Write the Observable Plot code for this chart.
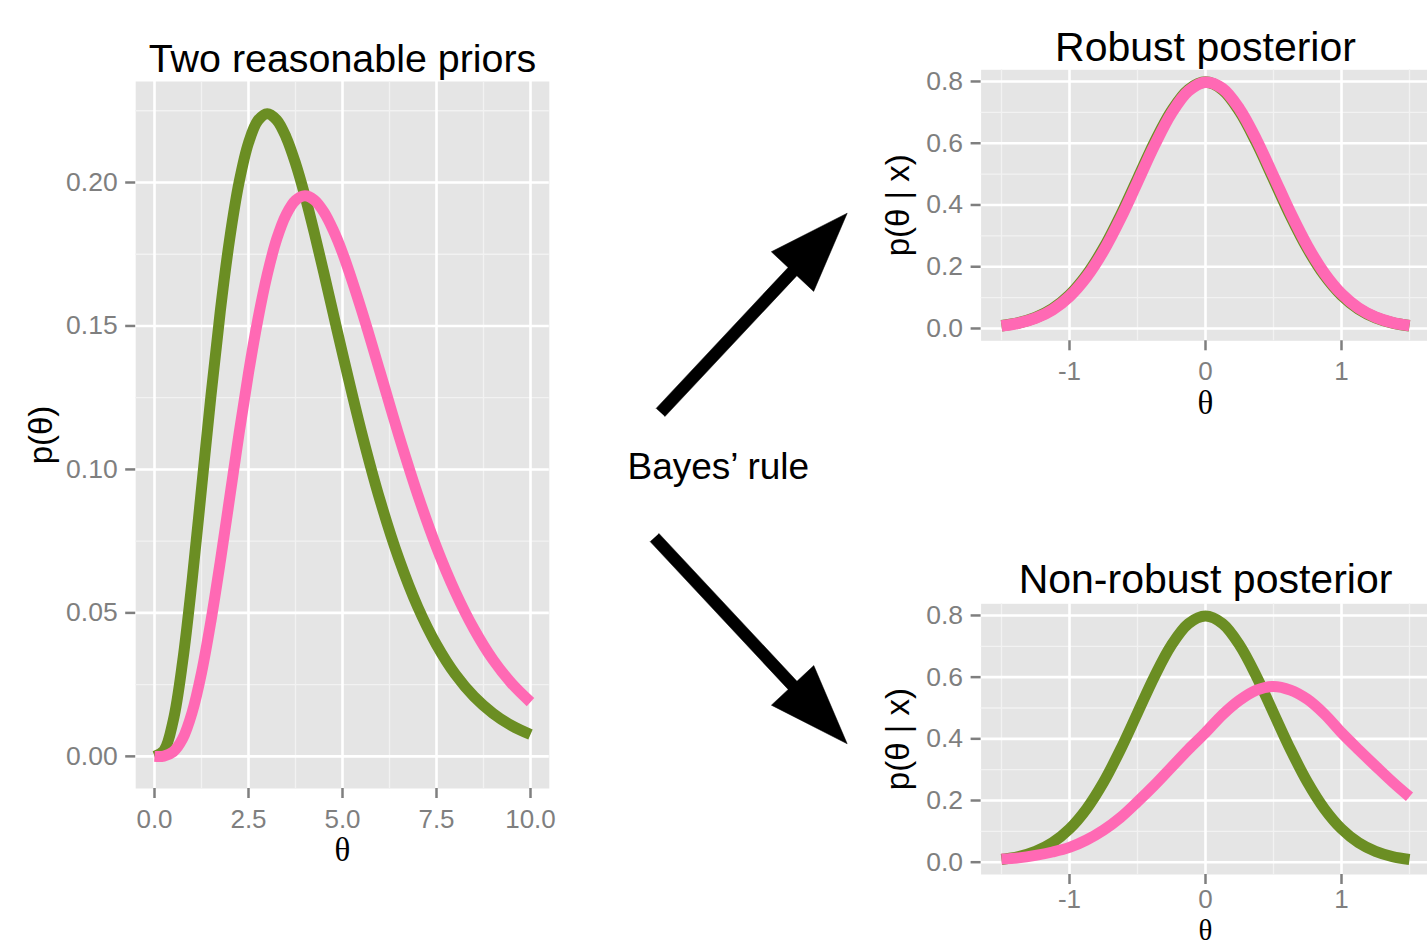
<!DOCTYPE html>
<html>
<head>
<meta charset="utf-8">
<script src="https://cdn.jsdelivr.net/npm/d3@7"></script>
<script src="https://cdn.jsdelivr.net/npm/@observablehq/plot@0.6"></script>
<style>
  html, body { margin: 0; padding: 0; background: #fff; overflow: hidden; }
  #wrap { position: relative; width: 1427px; height: 946px; overflow: hidden; background: #fff; }
</style>
</head>
<body>
<div id="wrap"></div>
<script>
// ---------------- DATA ----------------
const seriesNames = ["prior A", "prior B"];
const seriesColors = ["#6B8E23", "#FF69B4"];

// Left panel: two priors
const priorTheta = [0, 0.25, 0.5, 0.75, 1, 1.25, 1.5, 1.75, 2, 2.25, 2.5, 2.75, 3,
  3.25, 3.5, 3.75, 4, 4.25, 4.5, 4.75, 5, 5.5, 6, 6.5, 7, 7.5, 8, 8.5, 9, 9.5, 10];
const priorGreen = [0, 0.0020, 0.0126, 0.0332, 0.0613, 0.0933, 0.1255, 0.1552, 0.1804, 0.2001, 0.2138, 0.2216, 0.2240,
  0.2218, 0.2158, 0.2067, 0.1954, 0.1825, 0.1687, 0.1545, 0.1404, 0.1133, 0.0892, 0.0688, 0.0521, 0.0389, 0.0286, 0.0208, 0.0150, 0.0107, 0.0076];
const priorPink = [0, 0.0001, 0.0016, 0.0062, 0.0153, 0.0291, 0.0471, 0.0679, 0.0902, 0.1126, 0.1336, 0.1523, 0.1680,
  0.1803, 0.1888, 0.1938, 0.1954, 0.1939, 0.1898, 0.1835, 0.1755, 0.1558, 0.1339, 0.1118, 0.0912, 0.0729, 0.0573, 0.0443, 0.0337, 0.0254, 0.0189];

// Right panels: posteriors
const postTheta = [-1.5, -1.375, -1.25, -1.125, -1, -0.875, -0.75, -0.625, -0.5, -0.375, -0.25, -0.125, 0,
  0.125, 0.25, 0.375, 0.5, 0.625, 0.75, 0.875, 1, 1.125, 1.25, 1.375, 1.5];
const robustGreen = [0.0089, 0.0182, 0.0351, 0.0635, 0.1080, 0.1726, 0.2591, 0.3653, 0.4839, 0.6023, 0.7041, 0.7734, 0.7979,
  0.7734, 0.7041, 0.6023, 0.4839, 0.3653, 0.2591, 0.1726, 0.1080, 0.0635, 0.0351, 0.0182, 0.0089];
const robustPink = [0.0084, 0.0172, 0.0333, 0.0606, 0.1037, 0.1666, 0.2513, 0.3562, 0.4742, 0.5933, 0.6971, 0.7695, 0.7977,
  0.7773, 0.7111, 0.6113, 0.4936, 0.3744, 0.2669, 0.1786, 0.1123, 0.0664, 0.0369, 0.0192, 0.0094];
const nonRobustGreen = [0.0089, 0.0182, 0.0351, 0.0635, 0.1080, 0.1726, 0.2591, 0.3653, 0.4839, 0.6023, 0.7041, 0.7734, 0.7979,
  0.7734, 0.7041, 0.6023, 0.4839, 0.3653, 0.2591, 0.1726, 0.1080, 0.0635, 0.0351, 0.0182, 0.0089];
const nonRobustPink = [0.010, 0.014, 0.022, 0.033, 0.048, 0.072, 0.104, 0.145, 0.196, 0.250, 0.308, 0.366, 0.420,
  0.478, 0.525, 0.558, 0.570, 0.558, 0.528, 0.480, 0.420, 0.365, 0.312, 0.260, 0.212];

// Ticks and labels
const leftXTicks = [0, 2.5, 5, 7.5, 10];
const leftXTickLabels = ["0.0", "2.5", "5.0", "7.5", "10.0"];
const leftXMinor = [1.25, 3.75, 6.25, 8.75];
const leftYTicks = [0, 0.05, 0.10, 0.15, 0.20];
const leftYTickLabels = ["0.00", "0.05", "0.10", "0.15", "0.20"];
const leftYMinor = [0.025, 0.075, 0.125, 0.175, 0.225];
const postXTicks = [-1, 0, 1];
const postXTickLabels = ["-1", "0", "1"];
const postXMinor = [-1.5, -0.5, 0.5, 1.5];
const postYTicks = [0, 0.2, 0.4, 0.6, 0.8];
const postYTickLabels = ["0.0", "0.2", "0.4", "0.6", "0.8"];
const postYMinor = [0.1, 0.3, 0.5, 0.7];

const titles = ["Two reasonable priors", "Robust posterior", "Non-robust posterior"];
const xTitle = "θ";
const yTitlePrior = "p(θ)";
const yTitlePost = "p(θ | x)";
const middleLabel = "Bayes’ rule";

// ---------------- STYLE ----------------
const SANS = "'Liberation Sans', Arial, Helvetica, sans-serif";
const SERIF = "'Liberation Serif', 'Times New Roman', serif";
const PANEL_BG = "#E5E5E5";
const GRID_MAJOR = "#FFFFFF";
const GRID_MINOR = "#F2F2F2";
const AXIS_GREY = "#7F7F7F";

function rowsFrom(theta, a, b) {
  const rows = [];
  theta.forEach((t, i) => rows.push({theta: t, p: a[i], series: seriesNames[0]}));
  theta.forEach((t, i) => rows.push({theta: t, p: b[i], series: seriesNames[1]}));
  return rows;
}

function panel(o) {
  const fx = d => o.xLabels[o.xTicks.indexOf(d)];
  const fy = d => o.yLabels[o.yTicks.indexOf(d)];
  const svg = Plot.plot({
    width: o.width, height: o.height,
    marginLeft: o.ml, marginRight: o.mr, marginTop: o.mt, marginBottom: o.mb,
    x: {domain: o.xDomain},
    y: {domain: o.yDomain},
    color: {type: "ordinal", domain: seriesNames, range: seriesColors},
    style: {fontFamily: SANS, background: "transparent", overflow: "visible"},
    marks: [
      Plot.frame({fill: PANEL_BG, stroke: "none"}),
      Plot.ruleX(o.xMinor, {stroke: GRID_MINOR, strokeWidth: 1.3}),
      Plot.ruleY(o.yMinor, {stroke: GRID_MINOR, strokeWidth: 1.3}),
      Plot.ruleX(o.xTicks, {stroke: GRID_MAJOR, strokeWidth: 2.6}),
      Plot.ruleY(o.yTicks, {stroke: GRID_MAJOR, strokeWidth: 2.6}),
      Plot.line(o.rows, {x: "theta", y: "p", z: "series", stroke: "series",
        strokeWidth: o.lw, curve: "catmull-rom", strokeLinecap: "butt", strokeLinejoin: "round"}),
      Plot.axisX({ticks: o.xTicks, tickFormat: fx, tickSize: 10, tickPadding: o.xPad,
        fontSize: 26, color: AXIS_GREY, strokeWidth: 2.5, label: null}),
      Plot.axisY({ticks: o.yTicks, tickFormat: fy, tickSize: 10, tickPadding: 8,
        fontSize: 26.5, color: AXIS_GREY, strokeWidth: 2.5, label: null}),
      Plot.text([o.title], {text: d => d, frameAnchor: "top", dy: o.titleDy, lineAnchor: "bottom",
        textAnchor: "middle", fontSize: o.titleSize, fill: "black"}),
      Plot.text([xTitle], {text: d => d, frameAnchor: "bottom", dy: o.xTitleDy, lineAnchor: "bottom",
        textAnchor: "middle", fontSize: o.xTitleSize, fontFamily: SERIF, fill: "black"}),
      Plot.text([o.yTitle], {text: d => d, frameAnchor: "left", dx: o.yTitleDx, rotate: -90,
        textAnchor: "middle", lineAnchor: "middle", fontSize: 33, fill: "black"})
    ]
  });
  svg.style.position = "absolute";
  svg.style.left = o.left + "px";
  svg.style.top = o.top + "px";
  svg.style.maxWidth = "none";
  svg.style.background = "transparent";
  svg.style.overflow = "visible";
  return svg;
}

const wrap = document.getElementById("wrap");

// ---------------- Arrows + middle label (annotation layer) ----------------
const arrowSpecs = [
  {id: "up", x1: 660, y1: 412, x2: 846.7, y2: 212.7},
  {id: "down", x1: 654, y1: 537, x2: 846.7, y2: 743.3}
];
const SHAFT_W = 12, HEAD_LEN = 80, HEAD_W = 58;
const arrowPts = [];
for (const a of arrowSpecs) {
  const dx = a.x2 - a.x1, dy = a.y2 - a.y1, L = Math.hypot(dx, dy);
  const ux = dx / L, uy = dy / L, nx = -uy, ny = ux;
  const bx = a.x2 - ux * HEAD_LEN, by = a.y2 - uy * HEAD_LEN;
  const s = SHAFT_W / 2, h = HEAD_W / 2;
  [[a.x1 + nx * s, a.y1 + ny * s], [bx + nx * s, by + ny * s], [bx + nx * h, by + ny * h],
   [a.x2, a.y2], [bx - nx * h, by - ny * h], [bx - nx * s, by - ny * s], [a.x1 - nx * s, a.y1 - ny * s]]
    .forEach(([x, y]) => arrowPts.push({id: a.id, x, y}));
}
const overlay = Plot.plot({
  width: 1427, height: 946, margin: 0,
  x: {domain: [0, 1427], range: [0, 1427], axis: null},
  y: {domain: [0, 946], range: [0, 946], axis: null},
  style: {fontFamily: SANS, background: "transparent", overflow: "visible"},
  marks: [
    Plot.line(arrowPts, {x: "x", y: "y", z: "id", fill: "black", stroke: "black", strokeWidth: 0.5, curve: "linear"}),
    Plot.text([{label: middleLabel, x: 627, y: 478}], {x: "x", y: "y", text: "label", textAnchor: "start",
      lineAnchor: "bottom", fontSize: 37, fill: "black"})
  ]
});
overlay.style.position = "absolute";
overlay.style.left = "0px";
overlay.style.top = "0px";
overlay.style.maxWidth = "none";
wrap.appendChild(overlay);

// ---------------- Panels ----------------
const postXDomain = [-1.65, 1.65];
const postYDomain = [-0.0399, 0.8378];

wrap.appendChild(panel({
  left: 0, top: 0, width: 600, height: 900,
  ml: 135.2, mr: 51.2, mt: 81, mb: 112,
  xDomain: [-0.5, 10.5], yDomain: [-0.0112, 0.2352],
  xTicks: leftXTicks, xLabels: leftXTickLabels, xMinor: leftXMinor,
  yTicks: leftYTicks, yLabels: leftYTickLabels, yMinor: leftYMinor,
  rows: rowsFrom(priorTheta, priorGreen, priorPink), lw: 11, xPad: 11,
  title: titles[0], titleSize: 39.4, titleDy: -10, xTitleDy: 72, xTitleSize: 33,
  yTitle: yTitlePrior, yTitleDx: -94
}));

wrap.appendChild(panel({
  left: 860, top: 0, width: 580, height: 430,
  ml: 120.6, mr: 10.6, mt: 69.3, mb: 89.7,
  xDomain: postXDomain, yDomain: postYDomain,
  xTicks: postXTicks, xLabels: postXTickLabels, xMinor: postXMinor,
  yTicks: postYTicks, yLabels: postYTickLabels, yMinor: postYMinor,
  rows: rowsFrom(postTheta, robustGreen, robustPink), lw: 11.5, xPad: 11,
  title: titles[1], titleSize: 41, titleDy: -9.3, xTitleDy: 72.7, xTitleSize: 33,
  yTitle: yTitlePost, yTitleDx: -83
}));

wrap.appendChild(panel({
  left: 860, top: 520, width: 580, height: 446,
  ml: 120.6, mr: 10.6, mt: 83.3, mb: 92,
  xDomain: postXDomain, yDomain: postYDomain,
  xTicks: postXTicks, xLabels: postXTickLabels, xMinor: postXMinor,
  yTicks: postYTicks, yLabels: postYTickLabels, yMinor: postYMinor,
  rows: rowsFrom(postTheta, nonRobustGreen, nonRobustPink), lw: 11, xPad: 5.5,
  title: titles[2], titleSize: 41, titleDy: -10.6, xTitleDy: 65.5, xTitleSize: 29,
  yTitle: yTitlePost, yTitleDx: -83
}));
</script>
</body>
</html>
